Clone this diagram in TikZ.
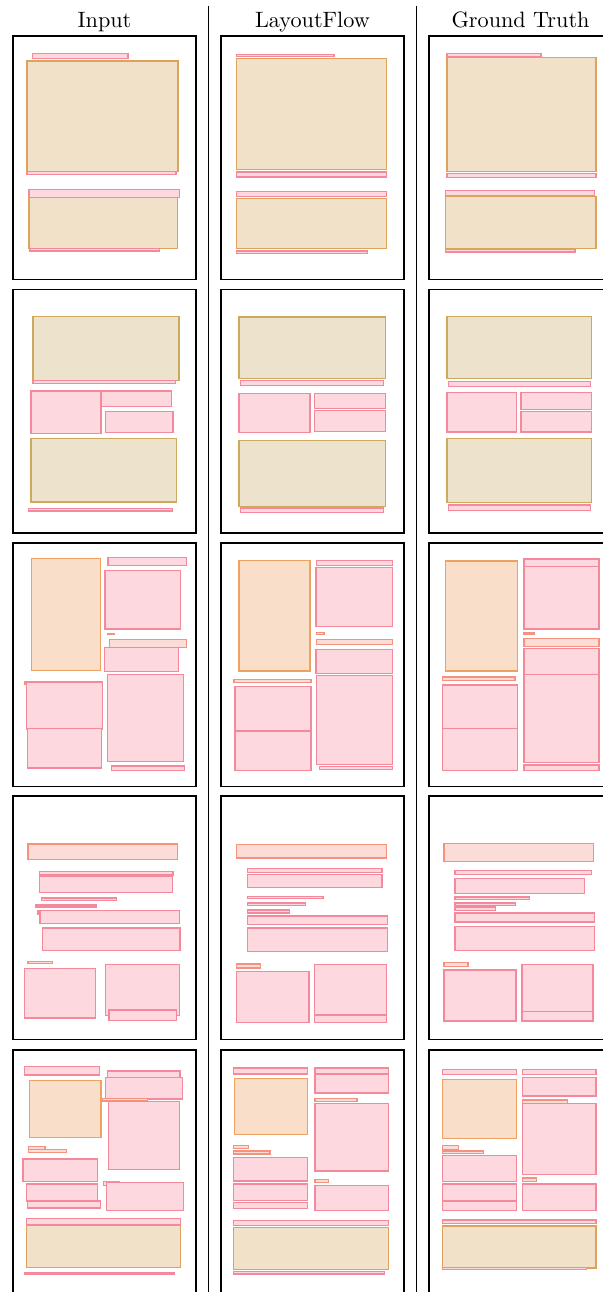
\documentclass[tikz,border=0pt]{standalone}
\usepackage{tikz}

\definecolor{txtfill}{HTML}{FDD9DF}
\definecolor{txtline}{HTML}{F4899C}
\definecolor{ttlfill}{HTML}{FCDCD6}
\definecolor{ttlline}{HTML}{F4917F}
\definecolor{figfill}{HTML}{F9DFC9}
\definecolor{figline}{HTML}{EFA162}
\definecolor{tblfill}{HTML}{F2E1C9}
\definecolor{tblline}{HTML}{DCA35D}
\definecolor{lstfill}{HTML}{EDE2CC}
\definecolor{lstline}{HTML}{CCA95F}

\tikzset{
  page/.style={draw=black, line width=0.6pt},
  sep/.style={draw=black, line width=0.4pt},
  txt/.style={fill=txtfill, draw=txtline, line width=0.65pt},
  ttl/.style={fill=ttlfill, draw=ttlline, line width=0.65pt},
  fig/.style={fill=figfill, draw=figline, line width=0.65pt},
  tbl/.style={fill=tblfill, draw=tblline, line width=0.65pt},
  lst/.style={fill=lstfill, draw=lstline, line width=0.65pt},
  head/.style={anchor=base, font=\normalsize}
}

\begin{document}
\begin{tikzpicture}[x=0.45pt, y=-0.45pt]
    \clip (0,0) rectangle (603,1292);

    % Column titles
    \node[head] (tinput) at (104.5,27.3) {Input};
    \node[head] (tflow) at (312.5,27.3) {LayoutFlow};
    \node[head] (ttruth) at (520.5,27.3) {Ground Truth};

    % Separators
    \draw[sep] (208.5,6) -- (208.5,1292);
    \draw[sep] (416.5,6) -- (416.5,1292);

    % Page frames
    \foreach \px in {13,221,429}
      \foreach \py in {36,289.5,543,796,1050}
        \draw[page] (\px,\py) rectangle ++(183,243.5);

    % Row 1
    \begin{scope}[shift={(13,36)}]
      \draw[txt] (19.7,17.7) rectangle (115,22.7);
      \draw[tbl] (13.9,25) rectangle (165,135.3);
      \draw[txt] (13.9,135.3) rectangle (163.2,138.7);
      \draw[txt] (16.2,153.3) rectangle (166.6,161.7);
      \draw[tbl] (16.2,161.7) rectangle (164.3,212.3);
      \draw[txt] (17,212.3) rectangle (146.6,215);
    \end{scope}
    \begin{scope}[shift={(221,36)}]
      \draw[txt] (15.5,18.3) rectangle (112.8,20.7);
      \draw[tbl] (15.5,22.3) rectangle (165.5,133.7);
      \draw[txt] (15.5,136) rectangle (165.5,141);
      \draw[txt] (15.5,155.3) rectangle (165.5,160.7);
      \draw[tbl] (15.5,162.7) rectangle (165.5,212.7);
      \draw[txt] (15.5,215) rectangle (146.7,217.3);
    \end{scope}
    \begin{scope}[shift={(429,36)}]
      \draw[txt] (17.9,17.7) rectangle (111.8,21);
      \draw[tbl] (17.9,21.7) rectangle (167.2,135.7);
      \draw[txt] (17.9,137.3) rectangle (167.2,141.3);
      \draw[txt] (16.4,154.7) rectangle (165.6,160);
      \draw[tbl] (16.4,160.7) rectangle (167.2,212.3);
      \draw[txt] (16.4,213.7) rectangle (146,216);
    \end{scope}

    % Row 2
    \begin{scope}[shift={(13,289.5)}]
      \draw[lst] (20.1,26.8) rectangle (166.2,91.2);
      \draw[txt] (20.1,91.2) rectangle (162.4,94.2);
      \draw[txt] (17.8,101.5) rectangle (88.2,144.2);
      \draw[txt] (88.2,101.5) rectangle (158.5,116.8);
      \draw[txt] (92.4,122.2) rectangle (160.1,143.2);
      \draw[lst] (17.8,148.8) rectangle (163.5,212.5);
      \draw[txt] (15.5,218.8) rectangle (159.7,221.5);
    \end{scope}
    \begin{scope}[shift={(221,289.5)}]
      \draw[lst] (17.8,27.5) rectangle (164.4,89.2);
      \draw[txt] (19.4,90.8) rectangle (162.5,95.8);
      \draw[txt] (17.8,103.8) rectangle (89,143.2);
      \draw[txt] (93.6,103.8) rectangle (164.4,119.2);
      \draw[txt] (93.6,120.8) rectangle (164.4,141.8);
      \draw[lst] (17.8,150.8) rectangle (164.4,216.8);
      \draw[txt] (19.4,218.5) rectangle (162.5,222.8);
    \end{scope}
    \begin{scope}[shift={(429,289.5)}]
      \draw[lst] (17.9,26.8) rectangle (162.5,89.2);
      \draw[txt] (19.5,91.8) rectangle (161.4,96.8);
      \draw[txt] (17.9,103.2) rectangle (87.5,142.5);
      \draw[txt] (91.8,103.2) rectangle (162.5,119.8);
      \draw[txt] (91.8,122.2) rectangle (162.5,142.5);
      \draw[lst] (17.9,148.8) rectangle (162.5,213.2);
      \draw[txt] (19.5,215.5) rectangle (161.4,221.2);
    \end{scope}

    % Row 3
    \begin{scope}[shift={(13,543)}]
      \draw[fig] (18.7,15.7) rectangle (87.3,127.3);
      \draw[txt] (95,14.3) rectangle (173.3,22.7);
      \draw[txt] (92,27.3) rectangle (167.7,86);
      \draw[ttl] (95,90.3) rectangle (101.7,91.7);
      \draw[ttl] (96.7,96.3) rectangle (173.3,104.7);
      \draw[txt] (91.3,104.3) rectangle (165.7,128.7);
      \draw[ttl] (12,138.3) rectangle (89.7,141);
      \draw[txt] (13.7,139.7) rectangle (89.7,186.3);
      \draw[txt] (14.3,185.7) rectangle (88.7,225);
      \draw[txt] (94.7,131.7) rectangle (170.7,218.7);
      \draw[txt] (98.3,223) rectangle (171.3,227.3);
    \end{scope}
    \begin{scope}[shift={(221,543)}]
      \draw[fig] (17.8,17.3) rectangle (89,128);
      \draw[txt] (95.5,17.3) rectangle (171.3,22.3);
      \draw[txt] (94.8,24.3) rectangle (171.3,83.3);
      \draw[ttl] (95.5,89.3) rectangle (103.2,91.7);
      \draw[ttl] (95.5,96.3) rectangle (171.3,101.7);
      \draw[txt] (94.8,106.3) rectangle (171.3,130.3);
      \draw[ttl] (13.2,136.7) rectangle (89.8,139.7);
      \draw[txt] (14,143.3) rectangle (89.8,188);
      \draw[txt] (14,188.7) rectangle (89.8,227.3);
      \draw[txt] (95.5,132.3) rectangle (171.3,221.7);
      \draw[txt] (98.6,223.7) rectangle (171.3,226.7);
    \end{scope}
    \begin{scope}[shift={(429,543)}]
      \draw[fig] (16.4,18) rectangle (88.7,128);
      \draw[txt] (94.8,16) rectangle (169.8,23.7);
      \draw[txt] (94.8,23.7) rectangle (169.8,86);
      \draw[ttl] (94.8,90) rectangle (104.8,91.7);
      \draw[ttl] (94.8,95.3) rectangle (169.8,103.3);
      \draw[txt] (94.8,105.3) rectangle (169.8,131.7);
      \draw[txt] (94.8,131.7) rectangle (169.8,219.3);
      \draw[txt] (94.8,222) rectangle (169.8,227.3);
      \draw[ttl] (13.7,134) rectangle (86,137.7);
      \draw[txt] (13.7,142) rectangle (88.7,185.3);
      \draw[txt] (13.7,185.3) rectangle (88.7,227.3);
    \end{scope}

    % Row 4
    \begin{scope}[shift={(13,796)}]
      \draw[ttl] (15,48) rectangle (164.7,63.7);
      \draw[txt] (26.3,75.7) rectangle (160,79);
      \draw[txt] (26.3,80.3) rectangle (159.3,96.7);
      \draw[txt] (28.3,102) rectangle (103.7,104.7);
      \draw[txt] (23,109) rectangle (83.3,111);
      \draw[txt] (25,115) rectangle (69.7,118.3);
      \draw[txt] (27,114.7) rectangle (166.3,127.3);
      \draw[txt] (29.3,132) rectangle (167,154.3);
      \draw[ttl] (15,165.7) rectangle (39.7,167.3);
      \draw[txt] (11.3,172.3) rectangle (82.3,222);
      \draw[txt] (92.7,168.3) rectangle (166.3,219.3);
      \draw[txt] (96,214) rectangle (163.7,224.3);
    \end{scope}
    \begin{scope}[shift={(221,796)}]
      \draw[ttl] (15.5,48.3) rectangle (165.5,62);
      \draw[txt] (26.3,72.7) rectangle (160.9,76.3);
      \draw[txt] (26.3,78.3) rectangle (160.9,91.3);
      \draw[txt] (26.3,100.3) rectangle (102.1,102.7);
      \draw[txt] (26.3,107) rectangle (84.4,109.3);
      \draw[txt] (26.3,114) rectangle (68.6,117);
      \draw[txt] (26.3,120) rectangle (166.7,128.7);
      \draw[txt] (26.3,132) rectangle (166.7,155.3);
      \draw[ttl] (15.5,168) rectangle (39.4,172);
      \draw[txt] (15.5,175.3) rectangle (88.2,226.3);
      \draw[txt] (93.6,168.7) rectangle (165.5,219.7);
      \draw[txt] (93.6,219) rectangle (165.5,226.3);
    \end{scope}
    \begin{scope}[shift={(429,796)}]
      \draw[ttl] (14.8,47.3) rectangle (164.5,65.3);
      \draw[txt] (26,74.7) rectangle (162.5,78.7);
      \draw[txt] (26,82.7) rectangle (155.6,97.3);
      \draw[txt] (26,101) rectangle (100.6,103.3);
      \draw[txt] (26,107) rectangle (86.4,109.3);
      \draw[txt] (26,111) rectangle (66.4,114.3);
      \draw[txt] (26,117) rectangle (165.6,126);
      \draw[txt] (26,130.3) rectangle (165.6,154.3);
      \draw[ttl] (14.8,166.3) rectangle (39.1,170.3);
      \draw[txt] (14.8,174) rectangle (87.2,225);
      \draw[txt] (92.9,168.3) rectangle (164.1,216.3);
      \draw[txt] (92.9,215.3) rectangle (164.1,225);
    \end{scope}

    % Row 5
    \begin{scope}[shift={(13,1050)}]
      \draw[txt] (11.3,16.3) rectangle (86.3,25);
      \draw[txt] (94.3,21) rectangle (167,29.3);
      \draw[fig] (16.3,30.7) rectangle (88,87.3);
      \draw[txt] (92.7,27.3) rectangle (169.3,49);
      \draw[ttl] (89.7,48.3) rectangle (134.7,51);
      \draw[txt] (95.3,51.3) rectangle (166.3,119.3);
      \draw[ttl] (15.7,96.3) rectangle (32,100.7);
      \draw[ttl] (15.7,99.7) rectangle (53.3,102.3);
      \draw[txt] (10,109) rectangle (84.7,131.7);
      \draw[ttl] (90.3,131.7) rectangle (106.7,135.7);
      \draw[txt] (93.7,132.7) rectangle (170.7,160.3);
      \draw[txt] (13.7,134) rectangle (84.7,151);
      \draw[txt] (14.3,151) rectangle (87.3,158);
      \draw[txt] (13.7,168.3) rectangle (167.7,175);
      \draw[tbl] (13.7,175.3) rectangle (167.7,217.3);
      \draw[txt] (12,222.3) rectangle (161.7,224);
    \end{scope}
    \begin{scope}[shift={(221,1050)}]
      \draw[txt] (12.7,18) rectangle (86.7,24);
      \draw[txt] (94,18) rectangle (167.7,24);
      \draw[fig] (13.3,28.3) rectangle (86.7,84.7);
      \draw[txt] (94,24) rectangle (167.7,43);
      \draw[ttl] (94,48.3) rectangle (136,51.7);
      \draw[txt] (94,53.3) rectangle (167.7,121);
      \draw[ttl] (12.7,95.7) rectangle (27.3,98.3);
      \draw[ttl] (12.7,101) rectangle (49,104);
      \draw[txt] (12.7,107.7) rectangle (86.7,131);
      \draw[ttl] (94,129.7) rectangle (107.7,132.3);
      \draw[txt] (94,135.3) rectangle (167.7,160.3);
      \draw[txt] (12.7,134) rectangle (86.7,150.7);
      \draw[txt] (12.7,152.7) rectangle (86.7,158.7);
      \draw[txt] (12.7,170.3) rectangle (167.7,175.3);
      \draw[tbl] (12.7,177.7) rectangle (167.7,219.3);
      \draw[txt] (12.7,221.3) rectangle (163.7,224);
    \end{scope}
    \begin{scope}[shift={(429,1050)}]
      \draw[txt] (13.3,19.3) rectangle (87.3,24.7);
      \draw[txt] (93.3,19.3) rectangle (167,24.7);
      \draw[fig] (13.3,29.3) rectangle (87.3,88.3);
      \draw[txt] (93.3,27.3) rectangle (167,46);
      \draw[ttl] (93.3,50) rectangle (138.3,53.3);
      \draw[txt] (93.3,53.3) rectangle (167,124.7);
      \draw[ttl] (13.3,95.3) rectangle (29.3,99.7);
      \draw[ttl] (13.3,101) rectangle (54.7,103.3);
      \draw[txt] (13.3,105.3) rectangle (87.3,131.3);
      \draw[ttl] (93.3,128) rectangle (107.7,131.7);
      \draw[txt] (93.3,134) rectangle (167,160.3);
      \draw[txt] (13.3,134) rectangle (87.3,151.3);
      \draw[txt] (13.3,151) rectangle (87.3,160.3);
      \draw[txt] (13.3,170) rectangle (167,173.7);
      \draw[tbl] (13.3,176) rectangle (167,218);
      \draw[txt] (13.3,217.7) rectangle (157.3,219.7);
    \end{scope}
\end{tikzpicture}
\end{document}
